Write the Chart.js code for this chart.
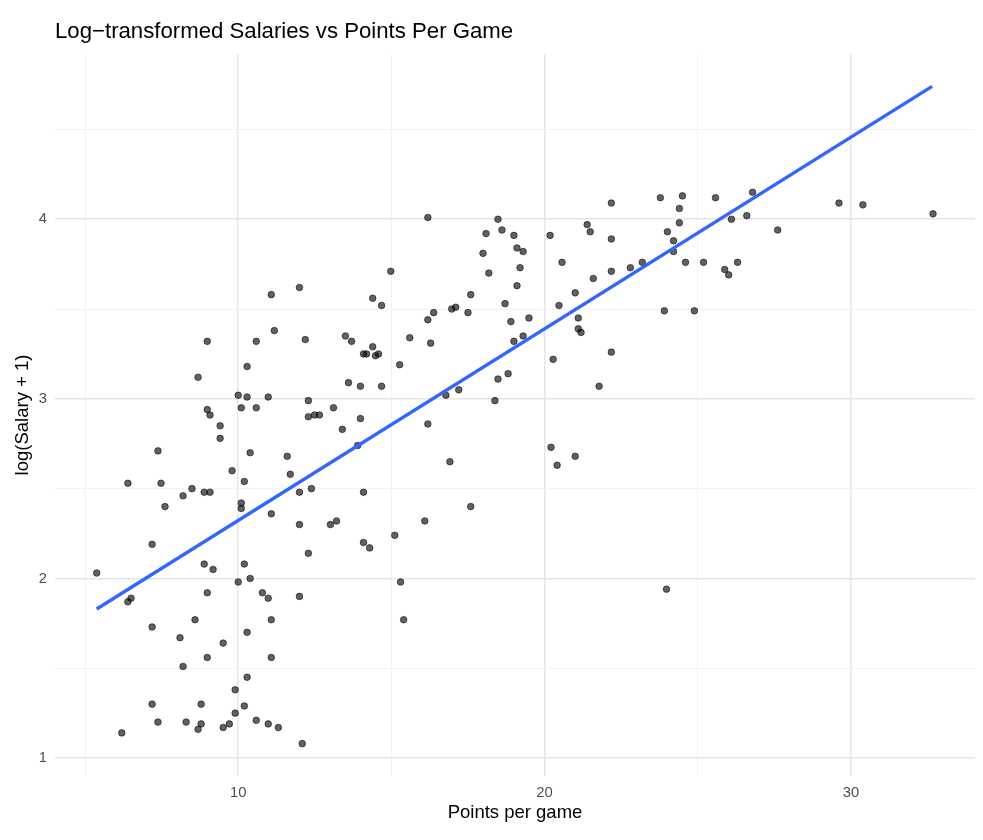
<!DOCTYPE html>
<html>
<head>
<meta charset="utf-8">
<script src="https://cdn.jsdelivr.net/npm/chart.js@4.4.1/dist/chart.umd.min.js"></script>
<style>
  html, body { margin: 0; padding: 0; background: #ffffff; }
  #wrap { width: 983px; height: 840px; }
</style>
</head>
<body>
<div id="wrap"><canvas id="salary-chart"></canvas></div>
<script>
// points per game vs log(salary + 1)
const ppg = [
  5.38, 6.20, 6.40, 6.40, 6.50, 7.19, 7.19, 7.19, 7.38, 7.38, 7.48, 7.61, 8.10, 8.20, 8.20, 8.30,
  8.49, 8.59, 8.69, 8.69, 8.79, 8.79, 8.89, 8.89, 8.99, 8.99, 8.99, 8.99, 9.08, 9.08, 9.18, 9.41,
  9.41, 9.51, 9.51, 9.71, 9.80, 9.90, 9.90, 10.00, 10.00, 10.10, 10.10, 10.10, 10.20, 10.20, 10.20,
  10.29, 10.29, 10.29, 10.29, 10.39, 10.39, 10.59, 10.59, 10.59, 10.79, 10.98, 10.98, 10.98, 11.08,
  11.08, 11.08, 11.08, 11.18, 11.31, 11.60, 11.70, 12.00, 12.00, 12.00, 12.00, 12.09, 12.19, 12.29,
  12.29, 12.29, 12.39, 12.49, 12.65, 13.11, 13.40, 13.50, 13.60, 13.70, 13.90, 13.99, 13.99, 14.09,
  14.19, 14.39, 14.39, 14.48, 14.58, 14.68, 14.68, 14.98, 15.27, 15.60, 16.19, 16.19, 16.19, 16.28,
  16.38, 16.78, 16.91, 16.97, 17.10, 17.20, 17.50, 17.59, 17.59, 17.99, 18.09, 18.18, 18.38, 18.48,
  18.48, 18.61, 18.71, 18.81, 18.90, 19.00, 19.00, 19.10, 19.10, 19.20, 19.30, 19.30, 19.49, 20.18,
  20.28, 20.47, 20.57, 14.09, 13.01, 13.21, 16.09, 15.11, 14.09, 14.29, 15.30, 15.40, 20.21, 20.41,
  21.00, 23.98, 22.18, 23.78, 24.50, 25.58, 26.79, 24.40, 21.39, 21.49, 24.40, 26.10, 26.60, 27.61,
  24.01, 22.18, 24.21, 24.21, 23.19, 22.80, 22.18, 24.60, 25.19, 26.30, 25.88, 26.01, 21.59, 21.00,
  23.91, 24.89, 21.10, 21.10, 21.19, 22.18, 21.78, 29.61, 30.39, 32.68
];
const logSalary = [
  2.03, 1.14, 2.53, 1.87, 1.89, 2.19, 1.73, 1.30, 2.71, 1.20, 2.53, 2.40, 1.67, 2.46, 1.51, 1.20,
  2.50, 1.77, 3.12, 1.16, 1.30, 1.19, 2.08, 2.48, 3.32, 2.94, 1.92, 1.56, 2.91, 2.48, 2.05, 2.85,
  2.78, 1.64, 1.17, 1.19, 2.60, 1.38, 1.25, 3.02, 1.98, 2.95, 2.42, 2.39, 2.54, 2.08, 1.29,
  3.18, 3.01, 1.70, 1.45, 2.70, 2.00, 3.32, 2.95, 1.21, 1.92, 3.01, 1.89, 1.19, 3.58,
  2.36, 1.77, 1.56, 3.38, 1.17, 2.68, 2.58, 3.62, 2.48, 2.30, 1.90, 1.08, 3.33, 2.99,
  2.90, 2.14, 2.50, 2.91, 2.91, 2.95, 2.83, 3.35, 3.09, 3.32, 2.74, 3.07, 2.89, 3.25,
  3.25, 3.56, 3.29, 3.24, 3.25, 3.52, 3.07, 3.71, 3.19, 3.34, 4.01, 3.44, 2.86, 3.31,
  3.48, 3.02, 2.65, 3.50, 3.51, 3.05, 3.48, 3.58, 2.40, 3.81, 3.92, 3.70, 2.99, 4.00,
  3.11, 3.94, 3.53, 3.14, 3.43, 3.91, 3.32, 3.84, 3.63, 3.73, 3.82, 3.35, 3.45, 3.91,
  3.22, 3.52, 3.76, 2.48, 2.30, 2.32, 2.32, 2.24, 2.20, 2.17, 1.98, 1.77, 2.73, 2.63,
  2.68, 1.94, 4.09, 4.12, 4.13, 4.12, 4.15, 4.06, 3.97, 3.93, 3.98, 4.00, 4.02, 3.94,
  3.93, 3.89, 3.88, 3.82, 3.76, 3.73, 3.71, 3.76, 3.76, 3.76, 3.72, 3.69, 3.67, 3.59,
  3.49, 3.49, 3.45, 3.39, 3.37, 3.26, 3.07, 4.09, 4.08, 4.03
];

// fitted line end points (lm smooth)
const fitPpg = [5.38, 32.65];
const fitLogSalary = [1.83, 4.74];

const xTicks = [5, 10, 15, 20, 25, 30];
const xLabelled = [10, 20, 30];
const yTicks = [1, 1.5, 2, 2.5, 3, 3.5, 4, 4.5];
const yLabelled = [1, 2, 3, 4];

const chartTitle = "Log\u2212transformed Salaries vs Points Per Game";

const points = ppg.map((x, i) => ({ x: x, y: logSalary[i] }));
const fitLine = fitPpg.map((x, i) => ({ x: x, y: fitLogSalary[i] }));

const titlePlugin = {
  id: "ggTitle",
  afterDraw(chart) {
    const c = chart.ctx;
    c.save();
    c.font = "22.2px 'Liberation Sans', Arial, sans-serif";
    c.fillStyle = "#000000";
    c.textAlign = "left";
    c.textBaseline = "middle";
    c.fillText(chartTitle, 55, 31.5);
    c.restore();
  },
};

function gridStyle(major) {
  return {
    color: (ctx) => (ctx.tick && major.includes(ctx.tick.value) ? "#e6e6e6" : "#f0f0f0"),
    lineWidth: (ctx) => (ctx.tick && major.includes(ctx.tick.value) ? 1.5 : 0.9),
    drawTicks: false,
  };
}

let ctx = document.getElementById("salary-chart").getContext("2d");
new Chart(ctx, {
  type: "scatter",
  data: {
    datasets: [
      {
        type: "line",
        data: fitLine,
        borderColor: "#3366FF",
        borderWidth: 3.4,
        pointRadius: 0,
        fill: false,
        tension: 0,
      },
      {
        data: points,
        backgroundColor: "rgba(0,0,0,0.62)",
        borderColor: "rgba(0,0,0,0.55)",
        borderWidth: 1,
        pointRadius: 3.3,
        pointHoverRadius: 3.3,
      },
    ],
  },
  options: {
    responsive: true,
    maintainAspectRatio: false,
    animation: false,
    layout: { padding: { top: 54, right: 8, bottom: 0, left: 0 } },
    plugins: {
      legend: { display: false },
      tooltip: { enabled: false },
    },
    scales: {
      x: {
        type: "linear",
        min: 4.02,
        max: 34.05,
        border: { display: false },
        grid: gridStyle(xLabelled),
        afterBuildTicks: (axis) => {
          axis.ticks = xTicks.map((v) => ({ value: v }));
        },
        afterFit: (axis) => {
          axis.height = 64;
        },
        ticks: {
          padding: 8,
          color: "#4d4d4d",
          font: { family: "'Liberation Sans', Arial, sans-serif", size: 14.8 },
          maxRotation: 0,
          callback: (v) => (xLabelled.includes(v) ? String(v) : ""),
        },
        title: {
          display: true,
          text: "Points per game",
          color: "#000000",
          font: { family: "'Liberation Sans', Arial, sans-serif", size: 18.5 },
          padding: { top: 0, bottom: 16 },
        },
      },
      y: {
        type: "linear",
        min: 0.9,
        max: 4.92,
        border: { display: false },
        grid: gridStyle(yLabelled),
        afterBuildTicks: (axis) => {
          axis.ticks = yTicks.map((v) => ({ value: v }));
        },
        afterFit: (axis) => {
          axis.width = 55;
        },
        ticks: {
          padding: 8,
          color: "#4d4d4d",
          font: { family: "'Liberation Sans', Arial, sans-serif", size: 14.8 },
          callback: (v) => (yLabelled.includes(v) ? String(v) : ""),
        },
        title: {
          display: true,
          text: "log(Salary + 1)",
          color: "#000000",
          font: { family: "'Liberation Sans', Arial, sans-serif", size: 18.5 },
          padding: { top: 12, bottom: 0 },
        },
      },
    },
  },
  plugins: [titlePlugin],
});
</script>
</body>
</html>
